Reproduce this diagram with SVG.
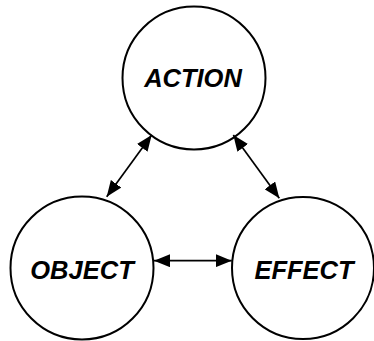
<svg xmlns="http://www.w3.org/2000/svg" width="374" height="341" viewBox="0 0 374 341">
<style>
.node circle{fill:#fff;stroke:#000;stroke-width:2}
.node text{font-family:"Liberation Sans",Arial,sans-serif;font-weight:bold;font-style:italic;font-size:25.5px;fill:#000;text-anchor:middle}
.conn line{stroke:#000;stroke-width:1.7;fill:none}
</style>
<defs>
<marker id="arr" viewBox="0 0 16 13" refX="16" refY="6.5" markerWidth="16" markerHeight="13" markerUnits="userSpaceOnUse" orient="auto-start-reverse">
<path d="M0,0 L16,6.5 L0,13 z" fill="#000"/>
</marker>
</defs>
<rect width="374" height="341" fill="#fff"/>
<g id="action" class="node">
<circle cx="194" cy="78" r="71.5"/>
<text x="193" y="87">ACTION</text>
</g>
<g id="object" class="node">
<circle cx="82" cy="268" r="71.5"/>
<text x="82" y="278.5">OBJECT</text>
</g>
<g id="effect" class="node">
<circle cx="303" cy="268" r="71"/>
<text x="304" y="278.5">EFFECT</text>
</g>
<g id="connectors" class="conn">
<line x1="151.7" y1="135" x2="106.7" y2="196.7" marker-start="url(#arr)" marker-end="url(#arr)"/>
<line x1="233.3" y1="135" x2="279.3" y2="198.3" marker-start="url(#arr)" marker-end="url(#arr)"/>
<line x1="154" y1="260.7" x2="231.7" y2="260.7" marker-start="url(#arr)" marker-end="url(#arr)"/>
</g>
</svg>
